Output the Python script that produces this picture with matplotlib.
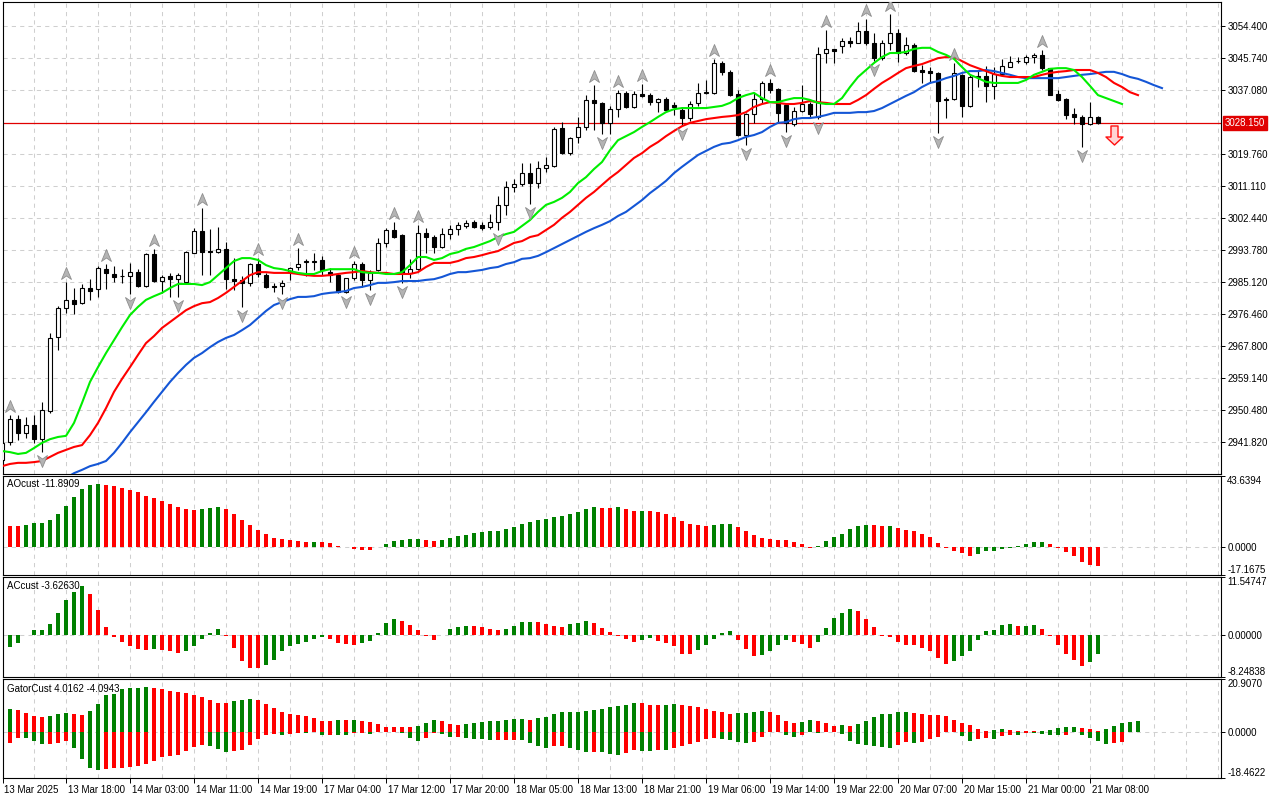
import matplotlib
matplotlib.use('Agg')
import matplotlib.pyplot as plt
import numpy as np
from matplotlib.path import Path
from matplotlib.transforms import offset_copy, ScaledTranslation, blended_transform_factory

plt.rcParams['font.family'] = ['Liberation Sans', 'DejaVu Sans']
plt.rcParams['lines.scale_dashes'] = False

# ---------------- data ----------------
opens = [
    2937.0, 2941.8, 2948.1, 2944.3, 2946.4, 2942.6, 2950.2, 2970.2, 2978.1, 2980.3,
    2979.4, 2983.5, 2983.2, 2988.6, 2987.3, 2986.8, 2986.8, 2987.8, 2984.1, 2992.7,
    2985.4, 2986.8, 2986.0, 2985.1, 2993.0, 2998.9, 2993.5, 2993.2, 2994.1, 2986.0,
    2985.7, 2984.9, 2990.0, 2987.0, 2984.1, 2984.1, 2987.8, 2989.2, 2990.5, 2990.6,
    2991.1, 2987.8, 2987.0, 2982.4, 2986.2, 2990.0, 2985.7, 2988.4, 2995.7, 2999.2,
    2997.8, 2987.6, 2988.6, 2998.4, 2997.3, 2994.6, 2998.1, 2999.5, 3000.3, 3001.4,
    3000.6, 3000.0, 3001.4, 3006.0, 3010.8, 3011.6, 3014.6, 3011.9, 3016.0, 3016.5,
    3026.8, 3020.0, 3024.4, 3027.1, 3034.4, 3033.6, 3028.2, 3032.0, 3036.3, 3032.5,
    3036.0, 3035.7, 3033.8, 3034.6, 3033.0, 3031.7, 3029.5, 3033.6, 3036.3, 3036.3,
    3044.4, 3042.0, 3036.0, 3024.9, 3030.6, 3034.6, 3039.0, 3037.4, 3033.0, 3028.0,
    3031.4, 3033.3, 3029.8, 3047.1, 3048.2, 3049.0, 3050.3, 3049.8, 3053.0, 3049.8,
    3045.7, 3049.8, 3052.5, 3047.1, 3049.3, 3042.5, 3042.2, 3041.7, 3034.6, 3034.6,
    3041.1, 3032.8, 3040.6, 3040.9, 3038.2, 3041.4, 3043.3, 3045.0, 3044.6, 3046.0,
    3046.6, 3043.0, 3036.0, 3034.6, 3030.6, 3029.8, 3027.9, 3029.8]
highs = [
    2941.8, 2949.1, 2949.1, 2948.6, 2949.1, 2952.6, 2971.3, 2978.6, 2985.1, 2983.5,
    2984.6, 2985.9, 2989.5, 2990.0, 2989.5, 2988.6, 2990.3, 2988.6, 2993.0, 2994.1,
    2987.0, 2987.6, 2987.6, 2993.5, 2999.7, 3005.2, 2999.5, 3000.0, 2996.0, 2991.6,
    2986.8, 2990.3, 2991.6, 2987.6, 2984.9, 2985.7, 2989.2, 2994.3, 2991.3, 2993.0,
    2992.2, 2988.9, 2987.6, 2986.2, 2990.8, 2990.5, 2988.4, 2997.0, 2999.7, 3001.4,
    2998.1, 2991.4, 3000.6, 2999.7, 2997.8, 2999.7, 3000.6, 3001.4, 3002.0, 3002.0,
    3001.4, 3003.5, 3008.4, 3012.5, 3013.0, 3017.3, 3017.3, 3017.9, 3019.0, 3027.1,
    3028.4, 3024.4, 3029.8, 3035.7, 3038.4, 3033.8, 3032.8, 3037.1, 3036.9, 3036.9,
    3038.7, 3036.3, 3034.9, 3035.2, 3033.8, 3032.5, 3034.1, 3039.0, 3039.8, 3045.5,
    3044.9, 3042.5, 3037.1, 3030.9, 3036.3, 3039.5, 3040.1, 3037.6, 3033.6, 3032.5,
    3038.4, 3033.8, 3048.7, 3053.3, 3048.2, 3051.2, 3051.4, 3055.5, 3056.3, 3052.5,
    3050.6, 3057.6, 3053.6, 3051.4, 3049.8, 3043.8, 3043.3, 3042.0, 3035.2, 3044.4,
    3041.4, 3041.4, 3042.5, 3043.6, 3043.3, 3045.5, 3046.3, 3046.0, 3046.6, 3047.1,
    3047.9, 3043.0, 3037.1, 3034.9, 3032.2, 3030.3, 3033.8, 3030.0]
lows = [
    2934.5, 2941.0, 2942.4, 2942.9, 2941.6, 2939.1, 2949.7, 2966.7, 2976.7, 2976.5,
    2979.2, 2980.3, 2981.1, 2983.2, 2985.1, 2984.9, 2981.9, 2983.8, 2983.8, 2985.1,
    2982.2, 2981.1, 2981.0, 2984.9, 2993.0, 2987.0, 2987.0, 2993.0, 2983.2, 2983.0,
    2978.4, 2984.1, 2986.5, 2983.5, 2982.4, 2981.9, 2985.7, 2988.4, 2986.8, 2988.4,
    2987.0, 2985.1, 2982.1, 2982.1, 2985.7, 2983.8, 2983.0, 2988.1, 2994.6, 2997.0,
    2984.9, 2986.2, 2988.4, 2993.0, 2993.0, 2994.3, 2996.7, 2997.8, 2999.7, 2999.7,
    2999.2, 2999.5, 2999.2, 3003.3, 3009.5, 3011.1, 3006.2, 3010.6, 3014.9, 3016.2,
    3019.8, 3019.5, 3022.7, 3026.3, 3026.3, 3025.2, 3025.2, 3029.8, 3032.2, 3032.2,
    3035.2, 3033.0, 3031.1, 3031.4, 3030.3, 3027.6, 3028.7, 3032.8, 3036.0, 3036.0,
    3041.1, 3035.5, 3024.6, 3022.2, 3028.2, 3033.6, 3036.3, 3028.2, 3025.7, 3027.3,
    3031.1, 3029.5, 3029.2, 3044.4, 3044.4, 3047.1, 3048.7, 3049.8, 3049.3, 3044.9,
    3045.2, 3047.9, 3044.7, 3046.6, 3041.9, 3039.0, 3039.0, 3025.4, 3029.5, 3034.4,
    3029.8, 3032.5, 3037.9, 3033.8, 3034.6, 3040.9, 3043.3, 3044.4, 3044.1, 3044.4,
    3042.5, 3035.7, 3034.1, 3029.2, 3027.9, 3021.7, 3027.6, 3028.0]
closes = [
    2941.5, 2948.1, 2944.3, 2946.4, 2942.6, 2950.5, 2970.0, 2978.1, 2980.3, 2979.2,
    2983.5, 2982.7, 2988.9, 2987.6, 2986.5, 2986.7, 2987.8, 2984.1, 2992.7, 2985.4,
    2986.5, 2986.0, 2987.0, 2993.2, 2998.9, 2993.2, 2993.2, 2994.1, 2986.0, 2985.4,
    2984.9, 2990.0, 2987.3, 2983.8, 2983.8, 2984.9, 2988.9, 2990.0, 2990.8, 2990.8,
    2988.4, 2987.0, 2982.4, 2986.2, 2990.0, 2985.7, 2987.6, 2995.7, 2999.2, 2997.3,
    2987.6, 2988.6, 2998.4, 2997.3, 2994.6, 2998.1, 2999.5, 3000.6, 3001.1, 3000.0,
    2999.7, 3001.4, 3006.0, 3010.8, 3011.6, 3014.6, 3011.9, 3016.0, 3016.8, 3026.5,
    3020.0, 3024.1, 3027.1, 3034.4, 3033.6, 3028.2, 3032.0, 3036.3, 3032.5, 3036.0,
    3035.5, 3033.8, 3034.6, 3031.7, 3032.5, 3029.5, 3033.3, 3036.3, 3036.6, 3044.4,
    3042.0, 3035.7, 3024.9, 3030.6, 3034.6, 3039.0, 3037.1, 3030.9, 3028.2, 3031.4,
    3033.3, 3030.6, 3046.8, 3048.2, 3047.7, 3050.3, 3049.8, 3053.0, 3049.8, 3045.7,
    3049.8, 3052.5, 3047.1, 3049.3, 3042.2, 3042.0, 3041.7, 3034.1, 3034.4, 3041.7,
    3032.8, 3040.6, 3041.0, 3038.2, 3041.4, 3043.6, 3044.6, 3044.9, 3046.0, 3046.6,
    3043.0, 3035.7, 3034.4, 3030.3, 3029.8, 3027.9, 3029.8, 3028.15]

# Alligator lines (first bar index of each series)
jaw_start = 8
jaw = [
    2932.1, 2933.4, 2934.3, 2935.3, 2935.9, 2936.7, 2938.9, 2941.6, 2944.5, 2947.2,
    2949.9, 2952.7, 2955.4, 2958.1, 2960.5, 2962.7, 2964.6, 2965.9, 2967.5, 2968.9,
    2970.0, 2970.8, 2972.1, 2973.5, 2975.4, 2977.3, 2978.9, 2979.7, 2980.5, 2981.1,
    2981.1, 2981.3, 2981.9, 2982.2, 2982.4, 2982.7, 2983.5, 2983.8, 2984.3, 2984.9,
    2984.9, 2985.1, 2985.4, 2985.4, 2985.4, 2985.7, 2985.9, 2986.5, 2987.3, 2987.8,
    2987.8, 2988.1, 2988.4, 2988.9, 2989.2, 2990.0, 2990.5, 2991.4, 2991.6, 2992.2,
    2993.2, 2994.3, 2995.4, 2996.5, 2997.6, 2998.7, 2999.7, 3000.6, 3001.6, 3003.0,
    3004.1, 3005.7, 3007.3, 3009.2, 3010.8, 3012.5, 3014.6, 3016.3, 3017.9, 3019.5,
    3020.6, 3021.7, 3022.5, 3022.8, 3023.5, 3024.4, 3024.9, 3025.7, 3027.1, 3028.2,
    3028.4, 3029.2, 3029.5, 3029.5, 3029.8, 3030.3, 3030.9, 3030.9, 3030.9, 3031.1,
    3031.1, 3031.4, 3032.2, 3033.3, 3034.4, 3035.5, 3036.5, 3037.9, 3039.0, 3039.5,
    3040.3, 3040.9, 3041.7, 3042.2, 3042.2, 3042.5, 3042.2, 3041.7, 3041.2, 3040.6,
    3040.3, 3040.3, 3040.3, 3040.3, 3040.3, 3040.6, 3040.9, 3041.2, 3041.4, 3041.7,
    3042.0, 3042.0, 3041.4, 3040.6, 3040.1, 3039.3, 3038.4, 3037.6]
teeth_start = 0
teeth = [
    2935.3, 2935.9, 2936.2, 2936.2, 2936.4, 2936.7, 2937.8, 2938.9, 2939.7, 2940.5,
    2941.0, 2943.7, 2947.0, 2951.0, 2955.4, 2958.9, 2962.1, 2965.4, 2968.6, 2970.5,
    2972.7, 2974.3, 2975.9, 2977.5, 2978.6, 2979.4, 2979.7, 2980.8, 2982.2, 2983.8,
    2985.4, 2987.0, 2987.8, 2987.8, 2987.6, 2987.6, 2987.6, 2987.3, 2987.0, 2986.8,
    2986.8, 2987.0, 2987.3, 2987.6, 2987.8, 2988.1, 2987.8, 2987.6, 2987.6, 2987.3,
    2987.3, 2987.3, 2987.8, 2989.2, 2990.3, 2990.3, 2990.3, 2990.8, 2991.6, 2991.9,
    2992.4, 2993.0, 2993.5, 2994.6, 2995.7, 2996.2, 2997.3, 2997.8, 2999.2, 3000.6,
    3002.5, 3004.1, 3006.0, 3007.9, 3009.5, 3011.4, 3013.3, 3014.9, 3016.8, 3018.7,
    3020.0, 3021.7, 3023.0, 3024.6, 3026.0, 3027.3, 3028.2, 3028.7, 3029.2, 3029.5,
    3029.8, 3030.0, 3030.3, 3031.1, 3032.5, 3033.3, 3033.8, 3033.6, 3033.3, 3033.3,
    3033.6, 3034.1, 3033.8, 3033.6, 3033.3, 3033.3, 3033.3, 3034.4, 3035.7, 3037.4,
    3039.0, 3040.3, 3041.7, 3043.0, 3043.6, 3044.1, 3044.9, 3045.7, 3046.0, 3046.0,
    3044.9, 3043.8, 3043.0, 3042.2, 3041.4, 3040.9, 3040.6, 3040.6, 3040.6, 3040.6,
    3041.2, 3041.7, 3042.0, 3042.2, 3042.5, 3042.5, 3042.5, 3041.7, 3040.6, 3039.0,
    3037.9, 3036.5, 3035.7]
lips_start = 0
lips = [
    2939.4, 2939.1, 2938.6, 2938.9, 2940.2, 2941.6, 2942.6, 2943.2, 2943.5, 2947.0,
    2952.4, 2958.1, 2962.1, 2965.9, 2969.4, 2972.9, 2976.2, 2978.4, 2980.3, 2981.3,
    2982.2, 2983.5, 2984.6, 2984.6, 2984.6, 2984.3, 2985.1, 2987.0, 2988.9, 2990.8,
    2991.6, 2991.6, 2991.1, 2989.7, 2988.9, 2988.6, 2988.1, 2987.6, 2987.3, 2987.3,
    2988.1, 2988.6, 2988.6, 2988.6, 2988.6, 2987.8, 2987.6, 2987.6, 2987.3, 2987.3,
    2987.8, 2989.7, 2991.9, 2991.9, 2991.1, 2991.6, 2992.7, 2993.2, 2994.1, 2994.6,
    2995.4, 2996.2, 2997.3, 2998.1, 2998.7, 3000.3, 3001.9, 3004.1, 3006.0, 3006.8,
    3007.9, 3009.5, 3011.9, 3013.5, 3015.7, 3017.6, 3020.8, 3023.5, 3024.6, 3025.7,
    3027.1, 3028.4, 3029.8, 3031.1, 3031.9, 3032.2, 3032.2, 3032.2, 3032.2, 3032.5,
    3032.8, 3033.6, 3034.9, 3035.7, 3036.3, 3034.9, 3033.8, 3033.8, 3034.4, 3034.9,
    3034.9, 3034.4, 3033.6, 3033.3, 3033.3, 3034.9, 3037.9, 3040.6, 3042.5, 3044.4,
    3046.0, 3047.1, 3047.1, 3047.4, 3048.2, 3048.5, 3048.5, 3047.4, 3046.6, 3045.5,
    3043.3, 3041.2, 3040.3, 3039.3, 3039.0, 3039.0, 3039.0, 3039.0, 3039.8, 3041.2,
    3042.0, 3042.8, 3043.0, 3043.0, 3042.5, 3040.6, 3038.2, 3035.7, 3034.9, 3034.1,
    3033.3]

fractal_up_bars = [1, 8, 13, 19, 25, 32, 37, 44, 49, 52, 74, 77, 80, 89, 96, 103, 108, 111, 119, 130]
fractal_down_bars = [5, 16, 22, 30, 35, 43, 46, 50, 62, 66, 75, 85, 93, 98, 102, 109, 117, 135]

current_price = 3028.15
current_price_label = '3028.150'
signal_bar = 139
signal_price = 3024.9

ao = [
    13.3, 12.9, 12.8, 13.5, 14.8, 14.9, 16.8, 20.3, 25.2, 30.8,
    35.7, 38.1, 39.0, 38.1, 37.3, 36.3, 35.1, 33.8, 31.4, 30.1,
    28.3, 26.4, 24.6, 23.6, 22.8, 23.4, 24.0, 24.6, 23.4, 20.3,
    16.6, 13.5, 10.5, 8.0, 5.5, 4.9, 4.3, 3.7, 3.1, 3.15,
    3.0, 2.5, 0.6, -0.2, -1.1, -1.6, -1.7, 0.2, 2.1, 3.7,
    4.3, 4.9, 5.0, 4.3, 3.7, 4.3, 5.5, 6.8, 7.4, 8.6,
    9.2, 9.8, 9.9, 11.1, 12.3, 14.1, 15.4, 16.6, 17.2, 18.5,
    19.1, 20.3, 21.5, 23.4, 24.6, 24.0, 23.9, 24.6, 23.4, 22.1,
    22.2, 22.1, 21.5, 20.3, 18.5, 16.0, 14.1, 13.5, 12.9, 13.5,
    14.1, 14.2, 12.3, 9.8, 7.4, 5.5, 4.9, 4.3, 4.2, 3.1,
    1.8, -0.3, 0.6, 3.7, 6.2, 8.0, 11.1, 12.9, 13.5, 13.4,
    12.9, 13.0, 11.7, 10.5, 9.8, 8.0, 6.2, 2.5, -0.4, -2.3,
    -3.7, -5.5, -4.3, -2.5, -2.4, -1.0, -0.4, 0.6, 1.8, 3.1,
    3.2, 1.8, -0.3, -3.1, -5.5, -9.2, -11.1, -11.8909]
ac = [
    -2.6, -2.4, -1.5, 0.1, 1.1, 1.12, 2.2, 4.4, 7.0, 8.6,
    9.8, 8.2, 5.0, 1.7, -0.3, -1.3, -2.2, -2.8, -3.0, -2.8,
    -3.0, -3.2, -3.4, -3.2, -2.2, -0.7, 0.5, 1.3, -0.1, -2.6,
    -5.0, -6.4, -6.5, -5.8, -4.8, -3.2, -2.2, -1.7, -1.3, -0.7,
    -0.3, -0.7, -1.5, -1.8, -1.85, -1.5, -1.1, 0.5, 2.4, 3.2,
    2.8, 2.0, 1.1, -0.1, -0.9, 0.05, 1.3, 1.7, 1.8, 1.78,
    1.65, 1.3, 1.1, 1.3, 1.8, 2.6, 2.65, 2.6, 2.2, 1.8,
    1.65, 2.2, 2.4, 2.8, 2.4, 1.5, 0.7, -0.1, -0.7, -1.3,
    -0.9, -0.5, -1.1, -1.5, -2.2, -3.6, -3.65, -3.0, -2.0, -0.7,
    0.5, 0.9, -0.9, -2.8, -4.0, -3.95, -3.2, -2.0, -0.9, -1.3,
    -1.65, -2.6, -1.3, 1.5, 3.4, 4.4, 5.2, 4.8, 3.2, 1.7,
    -0.05, -0.25, -1.3, -1.85, -1.9, -2.45, -3.2, -4.4, -5.6, -5.0,
    -4.0, -3.2, -0.9, 0.9, 1.1, 2.0, 2.2, 1.8, 1.85, 2.0,
    1.3, -0.05, -2.0, -3.6, -4.8, -6.0, -5.2, -3.6263]
gator_up = [
    8.75, 9.15, 8.75, 7.56, 6.36, 5.97, 6.36, 7.16, 7.2, 7.15,
    6.76, 8.35, 11.14, 14.72, 15.12, 17.1, 17.15, 17.5, 17.55, 17.5,
    17.1, 16.3, 15.9, 15.5, 14.7, 13.9, 12.7, 11.5, 11.45, 12.3,
    12.7, 13.1, 12.7, 11.1, 9.5, 7.6, 6.8, 6.4, 6.0, 5.2,
    4.4, 4.35, 4.8, 4.75, 4.8, 4.4, 4.0, 3.2, 2.0, 1.95,
    1.9, 1.85, 2.4, 3.6, 4.8, 4.4, 3.2, 2.8, 3.2, 3.6,
    4.0, 4.05, 4.4, 4.8, 4.85, 4.9, 4.8, 5.2, 5.6, 6.8,
    7.6, 7.65, 7.7, 8.0, 8.75, 9.15, 9.9, 10.3, 10.7, 11.5,
    11.45, 10.7, 10.65, 10.7, 11.1, 10.7, 10.3, 9.9, 9.15, 8.35,
    7.6, 7.15, 7.2, 7.25, 7.95, 8.0, 7.95, 6.4, 4.4, 3.6,
    4.0, 4.8, 4.4, 3.6, 2.4, 2.45, 2.35, 3.2, 4.4, 5.6,
    6.8, 6.85, 7.6, 7.95, 7.55, 6.8, 6.75, 6.4, 6.0, 4.8,
    3.6, 2.8, 1.2, 0.25, 0.8, 0.85, 0.8, 0.4, 0.35, 0.05,
    0.1, 0.8, 1.6, 1.65, 2.0, 1.6, 1.2, 0.05, 1.2, 2.4,
    3.6, 4.0, 4.0162]
gator_down = [
    -5.8, -4.4, -2.5, -2.7, -3.85, -4.8, -4.75, -4.4, -3.6, -6.6,
    -11.1, -14.6, -15.1, -15.05, -14.6, -14.55, -14.2, -13.8, -12.7, -11.9,
    -10.2, -9.8, -9.4, -7.6, -6.2, -5.2, -5.6, -7.0, -8.0, -7.6,
    -7.2, -5.2, -3.05, -1.2, -0.8, -1.45, -0.8, -0.4, -0.45, -0.3,
    -1.45, -1.4, -1.45, -1.5, -0.7, -0.4, -0.8, -0.3, -0.25, -0.2,
    -0.65, -2.65, -3.85, -2.65, -0.65, -1.05, -2.25, -2.2, -2.65, -3.05,
    -3.1, -3.45, -3.4, -3.35, -3.3, -3.45, -4.6, -5.8, -6.6, -5.8,
    -5.75, -6.6, -7.4, -8.2, -8.15, -8.2, -9.0, -9.4, -8.6, -7.4,
    -7.8, -7.85, -7.4, -7.45, -6.6, -5.8, -5.0, -4.25, -3.05, -2.65,
    -3.05, -3.45, -4.25, -4.65, -4.25, -2.25, -0.1, -0.3, -1.45, -2.25,
    -1.45, -0.25, -0.65, -0.3, -0.35, -1.05, -3.85, -5.05, -5.45, -5.8,
    -6.25, -6.6, -5.45, -4.25, -4.65, -4.25, -3.05, -2.25, -0.3, -0.2,
    -1.85, -3.85, -3.05, -2.65, -3.05, -1.85, -1.45, -1.5, -0.4, -0.65,
    -1.05, -1.45, -1.5, -1.4, -0.1, -1.45, -2.65, -3.85, -5.05, -4.65,
    -4.0943]

price_labels = ['3054.400', '3045.740', '3037.080', '3019.760', '3011.110', '3002.440',
                '2993.780', '2985.120', '2976.460', '2967.800', '2959.140', '2950.480', '2941.820']
time_bars = [0, 8, 16, 24, 32, 40, 48, 56, 64, 72, 80, 88, 96, 104, 112, 120, 128, 136]
time_labels = ['13 Mar 2025', '13 Mar 18:00', '14 Mar 03:00', '14 Mar 11:00', '14 Mar 19:00',
               '17 Mar 04:00', '17 Mar 12:00', '17 Mar 20:00', '18 Mar 05:00', '18 Mar 13:00',
               '18 Mar 21:00', '19 Mar 06:00', '19 Mar 14:00', '19 Mar 22:00', '20 Mar 07:00',
               '20 Mar 15:00', '21 Mar 00:00', '21 Mar 08:00']
ao_range = (-17.1675, 43.6394)
ac_range = (-8.24838, 11.54747)
gator_range = (-18.4622, 20.9070)
ao_title = 'AOcust -11.8909'
ac_title = 'ACcust -3.62630'
gator_title = 'GatorCust 4.0162 -4.0943'

# ---------------- figure ----------------
W, H = 1280, 800
fig = plt.figure(figsize=(12.8, 8.0), dpi=100)
fig.patch.set_facecolor('white')


def rect(x0, y0, x1, y1):
    return [x0 / W, 1 - y1 / H, (x1 - x0) / W, (y1 - y0) / H]


ax_main = fig.add_axes(rect(2.5, 2, 1221, 474))
ax_ao = fig.add_axes(rect(2.5, 476, 1221, 575))
ax_ac = fig.add_axes(rect(2.5, 577, 1221, 677))
ax_gt = fig.add_axes(rect(2.5, 679, 1221, 778))
axes = [ax_main, ax_ao, ax_ac, ax_gt]

XMIN, XMAX = 0.0625, 152.375
GRID = '#CFCFCF'
GREEN = '#008000'
RED = '#FF0000'
FS = 7

for ax in axes:
    ax.set_xlim(XMIN, XMAX)
    ax.set_facecolor('white')
    for s in ax.spines.values():
        s.set_color('black')
        s.set_linewidth(0.8)
    for b in range(0, 153, 4):
        ax.axvline(b, color=GRID, lw=0.75, ls=(0, (3, 3)), zorder=0)
    ax.tick_params(axis='x', which='both', bottom=False, labelbottom=False, top=False)
    ax.yaxis.tick_right()
    ax.tick_params(axis='y', length=3, width=0.7, labelsize=FS, pad=1.5, direction='out')

# ---------------- main panel ----------------
o = np.array(opens); h = np.array(highs); l = np.array(lows); c = np.array(closes)
x = np.arange(len(o))
ax_main.set_ylim(2933.18, 3060.90)
price_ticks = [float(s) for s in price_labels]
ax_main.set_yticks(price_ticks)
ax_main.set_yticklabels(price_labels)
for p in price_ticks:
    ax_main.axhline(p, color=GRID, lw=0.75, ls=(0, (3, 3)), zorder=0)

ax_main.axhline(current_price, color='#E00000', lw=0.9, zorder=1.5)

ax_main.vlines(x, l, h, color='black', lw=0.8, zorder=2)
bull = c >= o
body_bot = np.minimum(o, c)
body_h = np.maximum(np.abs(c - o), 0.06)
ax_main.bar(x, body_h, bottom=body_bot, width=0.6,
            color=np.where(bull, 'white', 'black'), edgecolor='black', linewidth=0.8, zorder=3)

ax_main.plot(np.arange(jaw_start, jaw_start + len(jaw)), jaw, color='#1456D6', lw=1.5, zorder=4,
             solid_joinstyle='round')
ax_main.plot(np.arange(teeth_start, teeth_start + len(teeth)), teeth, color='#FF0000', lw=1.5, zorder=4,
             solid_joinstyle='round')
ax_main.plot(np.arange(lips_start, lips_start + len(lips)), lips, color='#00EE00', lw=1.5, zorder=4,
             solid_joinstyle='round')

# fractal markers
up_path = Path([(0, 6), (5, -6), (0, -2.5), (-5, -6), (0, 6)],
               [Path.MOVETO, Path.LINETO, Path.LINETO, Path.LINETO, Path.CLOSEPOLY])
down_path = Path([(0, -6), (5, 6), (0, 2.5), (-5, 6), (0, -6)],
                 [Path.MOVETO, Path.LINETO, Path.LINETO, Path.LINETO, Path.CLOSEPOLY])
t_up = offset_copy(ax_main.transData, fig=fig, x=0, y=9, units='dots')
t_dn = offset_copy(ax_main.transData, fig=fig, x=0, y=-9, units='dots')
fu = np.array(fractal_up_bars); fd = np.array(fractal_down_bars)
ax_main.plot(fu, h[fu], ls='none', marker=up_path, ms=8.6, mfc='#B4B4B4', mec='#8E8E8E', mew=0.6,
             transform=t_up, zorder=5)
ax_main.plot(fd, l[fd], ls='none', marker=down_path, ms=8.6, mfc='#B4B4B4', mec='#8E8E8E', mew=0.6,
             transform=t_dn, zorder=5)

# signal arrow
arrow_path = Path([(-3.5, 9.5), (3.5, 9.5), (3.5, -1.5), (8.5, -1.5), (0, -9.5), (-8.5, -1.5),
                   (-3.5, -1.5), (-3.5, 9.5)],
                  [Path.MOVETO] + [Path.LINETO] * 6 + [Path.CLOSEPOLY])
ax_main.plot([signal_bar], [signal_price], ls='none', marker=arrow_path, ms=13.7,
             mfc='#FFD4D4', mec='#FF1010', mew=1.0, zorder=6)

# current price label
ax_main.annotate(current_price_label, xy=(1.0, current_price),
                 xycoords=blended_transform_factory(ax_main.transAxes, ax_main.transData),
                 xytext=(4, 0), textcoords='offset pixels', ha='left', va='center',
                 fontsize=FS, color='white', annotation_clip=False,
                 bbox=dict(boxstyle='square,pad=0.18', fc='#E00000', ec='#E00000'))


# ---------------- sub panels ----------------
def colors_from(vals, absolute=False):
    v = np.abs(vals) if absolute else np.array(vals)
    cols = [RED]
    for i in range(1, len(v)):
        cols.append(GREEN if v[i] > v[i - 1] else RED)
    return cols


def setup_sub(ax, rng, labels):
    ax.set_ylim(*rng)
    ax.axhline(0, color=GRID, lw=0.75, ls=(0, (3, 3)), zorder=0)
    ax.set_yticks([rng[0], 0, rng[1]])
    ax.set_yticklabels(labels)
    tl = ax.get_yticklabels()
    tl[0].set_va('bottom')
    tl[-1].set_va('top')


ao_v = np.array(ao)
ax_ao.bar(np.arange(len(ao_v)), ao_v, width=0.5, color=colors_from(ao_v), linewidth=0, zorder=2)
setup_sub(ax_ao, ao_range, ['-17.1675', '0.0000', '43.6394'])

ac_v = np.array(ac)
ax_ac.bar(np.arange(len(ac_v)), ac_v, width=0.5, color=colors_from(ac_v), linewidth=0, zorder=2)
setup_sub(ax_ac, ac_range, ['-8.24838', '0.00000', '11.54747'])

gu = np.array(gator_up); gd = np.array(gator_down)
ax_gt.bar(np.arange(len(gu)), gu, width=0.5, color=colors_from(gu, True), linewidth=0, zorder=2)
ax_gt.bar(np.arange(len(gd)), gd, width=0.5, color=colors_from(gd, True), linewidth=0, zorder=2)
setup_sub(ax_gt, gator_range, ['-18.4622', '0.0000', '20.9070'])

# titles
ax_ao.text(4 / 1218, 1 - 8 / 99, ao_title, transform=ax_ao.transAxes, fontsize=FS, va='center', ha='left')
ax_ac.text(4 / 1218, 1 - 9 / 100, ac_title, transform=ax_ac.transAxes, fontsize=FS, va='center', ha='left')
ax_gt.text(4 / 1218, 1 - 10 / 99, gator_title, transform=ax_gt.transAxes, fontsize=FS, va='center', ha='left')

# time axis
ax_gt.set_xticks(time_bars)
ax_gt.set_xticklabels(time_labels, ha='left')
ax_gt.tick_params(axis='x', bottom=True, labelbottom=True, length=3.5, width=0.7, labelsize=FS,
                  pad=1.5, direction='out')
for lab in ax_gt.get_xticklabels():
    lab.set_transform(lab.get_transform() + ScaledTranslation(1.5 / 100, 0, fig.dpi_scale_trans))

fig.savefig('out.png', dpi=100, facecolor='white')
